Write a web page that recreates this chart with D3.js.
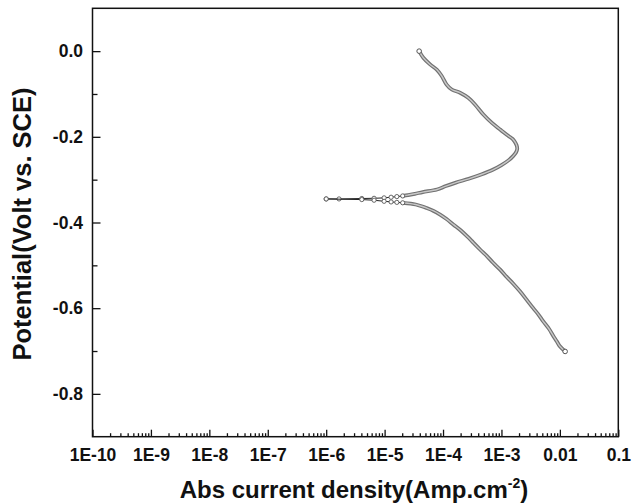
<!DOCTYPE html>
<html>
<head>
<meta charset="utf-8">
<script src="https://cdn.jsdelivr.net/npm/d3@7"></script>
<style>
  body { margin: 0; background: #fff; }
  svg { display: block; font-family: "Liberation Sans", Arial, sans-serif; font-weight: bold; }
</style>
</head>
<body>
<div id="chart"></div>
<script>
// Tafel curve
// anodic branch: from Ecorr up to 0 V
const anodicE = [-0.345, -0.345, -0.344, -0.3435, -0.3425, -0.341, -0.3395, -0.338, -0.336, -0.333,
  -0.329, -0.323, -0.315, -0.307, -0.298, -0.288, -0.277, -0.266, -0.255, -0.245,
  -0.236, -0.228, -0.220, -0.212, -0.205, -0.198, -0.190, -0.183, -0.167, -0.148,
  -0.125, -0.109, -0.097, -0.0895, -0.078, -0.058, -0.043, -0.031, -0.0155, 0.0];
const anodicI = [1.0e-6, 1.66e-6, 4.07e-6, 6.6e-6, 9.8e-6, 1.29e-5, 1.62e-5, 2.04e-5, 2.5e-5, 3.3e-5,
  4.5e-5, 7.9e-5, 1.12e-4, 1.66e-4, 2.75e-4, 4.5e-4, 7.1e-4, 1.0e-3, 1.32e-3, 1.58e-3,
  1.78e-3, 1.86e-3, 1.82e-3, 1.7e-3, 1.55e-3, 1.32e-3, 1.1e-3, 9.5e-4, 6.8e-4, 4.9e-4,
  3.55e-4, 2.7e-4, 1.95e-4, 1.41e-4, 1.15e-4, 9.5e-5, 7.8e-5, 6.0e-5, 4.6e-5, 3.9e-5];

// cathodic branch: from Ecorr down to -0.7 V
const cathodicE = [-0.345, -0.3465, -0.348, -0.3505, -0.352, -0.353, -0.354, -0.356, -0.358, -0.362,
  -0.366, -0.373, -0.3815, -0.392, -0.405, -0.418, -0.432, -0.447, -0.463, -0.478,
  -0.494, -0.510, -0.527, -0.544, -0.561, -0.580, -0.600, -0.615, -0.631, -0.648,
  -0.666, -0.678, -0.689, -0.701];
const cathodicI = [1.0e-6, 4.07e-6, 6.6e-6, 9.8e-6, 1.29e-5, 1.62e-5, 2.04e-5, 2.8e-5, 3.4e-5, 4.3e-5,
  5.2e-5, 6.9e-5, 8.9e-5, 1.15e-4, 1.51e-4, 2.0e-4, 2.57e-4, 3.3e-4, 4.3e-4, 5.6e-4,
  7.2e-4, 9.5e-4, 1.23e-3, 1.62e-3, 2.09e-3, 2.69e-3, 3.5e-3, 4.3e-3, 5.2e-3, 6.5e-3,
  7.8e-3, 8.9e-3, 1.0e-2, 1.23e-2];

// near Ecorr the points are far apart and show as single circles
const anodicSparse = 8;
const cathodicSparse = 7;

const xTicks = [1e-10, 1e-9, 1e-8, 1e-7, 1e-6, 1e-5, 1e-4, 1e-3, 1e-2, 1e-1];
const xTickLabels = ["1E-10", "1E-9", "1E-8", "1E-7", "1E-6", "1E-5", "1E-4", "1E-3", "0.01", "0.1"];
const yTicks = [0, -0.2, -0.4, -0.6, -0.8];
const yTickLabels = ["0.0", "-0.2", "-0.4", "-0.6", "-0.8"];
const yMinor = [-0.1, -0.3, -0.5, -0.7];

var width = 632, height = 504;
var mLeft = 92.5, mRight = 618.3, mTop = 8.3, mBottom = 436.7;

var svg = d3.select("#chart").append("svg")
  .attr("width", width)
  .attr("height", height);

var x = d3.scaleLog().domain([1e-10, 0.1]).range([mLeft, mRight]);
var y = d3.scaleLinear().domain([-0.9, 0.1]).range([mBottom, mTop]);

// minor log ticks 2..9 in every decade
var xMinor = [];
xTicks.slice(0, -1).forEach(function(d) {
  for (var k = 2; k <= 9; k++) xMinor.push(d * k);
});

// x axis, ticks pointing inward
var gx = svg.append("g").attr("transform", "translate(0," + mBottom + ")");
gx.call(d3.axisBottom(x).tickValues(xTicks).tickSize(-7).tickPadding(12)
  .tickFormat(function(d, i) { return xTickLabels[i]; }));
var gxm = svg.append("g").attr("transform", "translate(0," + mBottom + ")");
gxm.call(d3.axisBottom(x).tickValues(xMinor).tickSize(-3.5).tickFormat(""));

// y axis, ticks pointing inward
var gy = svg.append("g").attr("transform", "translate(" + mLeft + ",0)");
gy.call(d3.axisLeft(y).tickValues(yTicks).tickSize(-8).tickPadding(9.5)
  .tickFormat(function(d, i) { return yTickLabels[i]; }));
var gym = svg.append("g").attr("transform", "translate(" + mLeft + ",0)");
gym.call(d3.axisLeft(y).tickValues(yMinor).tickSize(-5).tickFormat(""));

svg.selectAll(".domain").remove();
svg.selectAll(".tick line").attr("stroke", "#111").attr("stroke-width", 1.3);
svg.selectAll(".tick text")
  .attr("fill", "#111")
  .style("font-size", "17.5px")
  .style("font-family", "'Liberation Sans', Arial, sans-serif")
  .style("font-weight", "bold");

// frame
svg.append("rect")
  .attr("x", mLeft).attr("y", mTop)
  .attr("width", mRight - mLeft).attr("height", mBottom - mTop)
  .attr("fill", "none")
  .attr("stroke", "#111")
  .attr("stroke-width", 1.5);

// build point lists
function toPoints(cur, pot) {
  return cur.map(function(c, i) { return { i: c, e: pot[i] }; });
}
var anodic = toPoints(anodicI, anodicE);
var cathodic = toPoints(cathodicI, cathodicE);

var line = d3.line()
  .x(function(d) { return x(d.i); })
  .y(function(d) { return y(d.e); })
  .curve(d3.curveCatmullRom);

var plot = svg.append("g");

// dense part: overlapping hollow markers look like a grey tube
[anodic.slice(anodicSparse - 1), cathodic.slice(cathodicSparse - 1)].forEach(function(seg) {
  plot.append("path").datum(seg)
    .attr("d", line)
    .attr("fill", "none")
    .attr("stroke", "#727272")
    .attr("stroke-width", 3.8)
    .attr("stroke-linecap", "round");
  plot.append("path").datum(seg)
    .attr("d", line)
    .attr("fill", "none")
    .attr("stroke", "#c8c8c8")
    .attr("stroke-width", 1.4)
    .attr("stroke-linecap", "round");
});

// sparse part near Ecorr: thin line + open circles
[anodic.slice(0, anodicSparse), cathodic.slice(0, cathodicSparse)].forEach(function(seg) {
  plot.append("path").datum(seg)
    .attr("d", d3.line().x(function(d) { return x(d.i); }).y(function(d) { return y(d.e); }))
    .attr("fill", "none")
    .attr("stroke", "#222")
    .attr("stroke-width", 1);
  plot.selectAll(null)
    .data(seg)
    .enter()
    .append("circle")
    .attr("cx", function(d) { return x(d.i); })
    .attr("cy", function(d) { return y(d.e); })
    .attr("r", 2.1)
    .attr("fill", "#fff")
    .attr("stroke", "#555")
    .attr("stroke-width", 0.9);
});

// end markers
[anodic[anodic.length - 1], cathodic[cathodic.length - 1]].forEach(function(d) {
  plot.append("circle")
    .attr("cx", x(d.i)).attr("cy", y(d.e)).attr("r", 2.3)
    .attr("fill", "#fff").attr("stroke", "#555").attr("stroke-width", 1);
});

// axis titles
var xt = svg.append("text")
  .attr("x", 354)
  .attr("y", 498)
  .attr("text-anchor", "middle")
  .attr("fill", "#111")
  .style("font-size", "24px");
xt.append("tspan").text("Abs current density(Amp.cm");
xt.append("tspan").attr("dy", -10).style("font-size", "14px").text("-2");
xt.append("tspan").attr("dy", 10).text(")");

svg.append("text")
  .attr("transform", "translate(31,224) rotate(-90)")
  .attr("text-anchor", "middle")
  .attr("fill", "#111")
  .style("font-size", "25.5px")
  .text("Potential(Volt vs. SCE)");
</script>
</body>
</html>
